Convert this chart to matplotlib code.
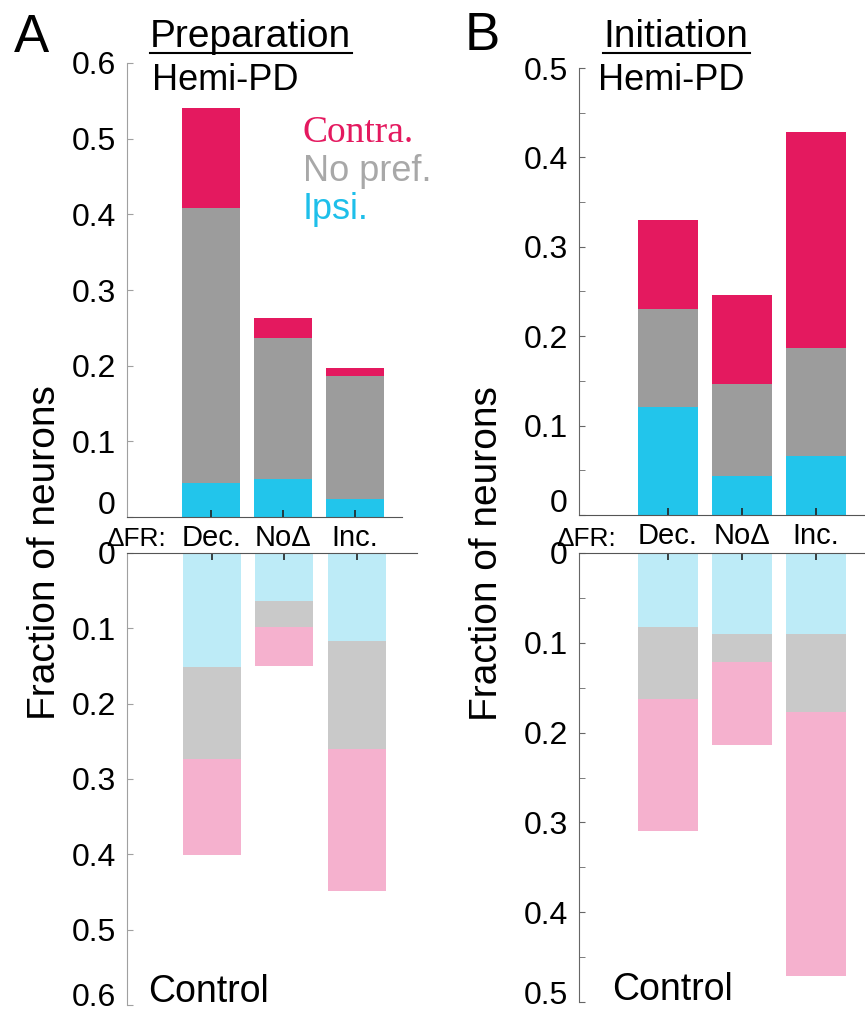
import matplotlib
matplotlib.use('Agg')
import matplotlib.pyplot as plt
import numpy as np
from matplotlib.lines import Line2D
from matplotlib.transforms import ScaledTranslation

plt.rcParams['font.family'] = ['Liberation Sans', 'DejaVu Sans']

# %% data: fraction of neurons per firing-rate change group, split by preference
groups = ['Dec.', 'No\u0394', 'Inc.']
pos = np.array([1, 2, 3])

# Preparation epoch
prep_pd_ipsi = [0.045, 0.050, 0.024]
prep_pd_nopref = [0.363, 0.186, 0.162]
prep_pd_contra = [0.132, 0.027, 0.011]
prep_ctl_ipsi = [0.151, 0.064, 0.117]
prep_ctl_nopref = [0.123, 0.034, 0.143]
prep_ctl_contra = [0.127, 0.052, 0.189]

# Initiation epoch
init_pd_ipsi = [0.121, 0.044, 0.066]
init_pd_nopref = [0.109, 0.103, 0.121]
init_pd_contra = [0.100, 0.099, 0.241]
init_ctl_ipsi = [0.082, 0.090, 0.090]
init_ctl_nopref = [0.081, 0.031, 0.087]
init_ctl_contra = [0.147, 0.093, 0.294]

prep_ticks = [0, 0.1, 0.2, 0.3, 0.4, 0.5, 0.6]
prep_labels = ['0', '0.1', '0.2', '0.3', '0.4', '0.5', '0.6']
init_ticks = [0, 0.1, 0.2, 0.3, 0.4, 0.5]
init_labels = ['0', '0.1', '0.2', '0.3', '0.4', '0.5']

# colours
c_contra, c_nopref, c_ipsi = '#E4195F', '#9C9C9C', '#22C5EB'
l_contra, l_nopref, l_ipsi = '#F5B1CE', '#C9C9C9', '#BDEBF7'

W, H = 865, 1011
fig = plt.figure(figsize=(W / 100, H / 100), dpi=100)

def px_axes(l, t, r, b):
    return fig.add_axes([l / W, 1 - b / H, (r - l) / W, (b - t) / H])

axA_top = px_axes(127, 63, 402, 517)
axA_bot = px_axes(127, 553, 417, 1005)
axB_top = px_axes(579, 68, 865, 515)
axB_bot = px_axes(579, 553, 865, 1002)

def stack(ax, ipsi, nopref, contra, cols):
    ipsi, nopref, contra = map(np.array, (ipsi, nopref, contra))
    ax.bar(pos, ipsi, 0.8, color=cols[0], linewidth=0)
    ax.bar(pos, nopref, 0.8, bottom=ipsi, color=cols[1], linewidth=0)
    ax.bar(pos, contra, 0.8, bottom=ipsi + nopref, color=cols[2], linewidth=0)

def style(ax, ticks, labels, ymax, top, spine_col, minor):
    for s in ax.spines.values():
        s.set_visible(False)
    ax.spines['left'].set_visible(True)
    ax.spines['left'].set_color(spine_col)
    xs = 'bottom' if top else 'top'
    ax.spines[xs].set_visible(True)
    ax.spines[xs].set_color('#555555')
    ax.set_ylim(0, ymax)
    if not top:
        ax.invert_yaxis()
    ax.set_yticks(ticks)
    ax.set_yticklabels(labels)
    if minor:
        ax.set_yticks(np.arange(0.05, ymax, 0.1), minor=True)
        ax.tick_params(axis='y', which='minor', direction='in', length=4,
                       color=spine_col)
    ax.tick_params(axis='y', direction='in', length=4, color=spine_col,
                   labelsize=23, pad=8)
    ax.set_xticks(pos)
    if top:
        ax.xaxis.set_ticks_position('bottom')
        ax.set_xticklabels(groups)
        ax.tick_params(axis='x', direction='in', length=5, width=1.2,
                       color='#222222', labelsize=21, pad=5)
    else:
        ax.xaxis.set_ticks_position('top')
        ax.tick_params(axis='x', direction='in', length=5, width=1.2,
                       color='#222222', labeltop=False, labelbottom=False)
    ax.patch.set_alpha(0)

stack(axA_top, prep_pd_ipsi, prep_pd_nopref, prep_pd_contra, (c_ipsi, c_nopref, c_contra))
stack(axA_bot, prep_ctl_ipsi, prep_ctl_nopref, prep_ctl_contra, (l_ipsi, l_nopref, l_contra))
stack(axB_top, init_pd_ipsi, init_pd_nopref, init_pd_contra, (c_ipsi, c_nopref, c_contra))
stack(axB_bot, init_ctl_ipsi, init_ctl_nopref, init_ctl_contra, (l_ipsi, l_nopref, l_contra))

style(axA_top, prep_ticks, prep_labels, 0.6, True, '#A0A0A0', False)
style(axA_bot, prep_ticks, prep_labels, 0.6, False, '#A0A0A0', False)
style(axB_top, init_ticks, init_labels, 0.5, True, '#666666', True)
style(axB_bot, init_ticks, init_labels, 0.5, False, '#666666', True)

axA_top.set_xlim(-0.17, 3.65)
axA_bot.set_xlim(-0.172, 3.83)
axB_top.set_xlim(-0.2, 3.66)
axB_bot.set_xlim(-0.2, 3.66)

# lift the "0" label of the upper panels clear of the group names,
# and the last label of the lower panels so it sits on its tick
def shift_label(ax, idx, dy):
    lab = ax.yaxis.get_major_ticks()[idx].label1
    lab.set_transform(lab.get_transform() + ScaledTranslation(0, dy, fig.dpi_scale_trans))

shift_label(axA_top, 0, 0.15)
shift_label(axB_top, 0, 0.15)
shift_label(axA_bot, -1, 0.10)
shift_label(axB_bot, -1, 0.10)

# legend
axA_top.text(0.64, 0.846, 'Contra.', transform=axA_top.transAxes, color=c_contra,
             fontsize=27, family=['Liberation Serif', 'DejaVu Serif'], va='center')
axA_top.text(0.64, 0.762, 'No pref.', transform=axA_top.transAxes, color='#A8A8A8',
             fontsize=26, va='center')
axA_top.text(0.64, 0.678, 'Ipsi.', transform=axA_top.transAxes, color='#1EBFEA',
             fontsize=26, va='center')

def fx(x):
    return x / W

def fy(y):
    return 1 - y / H

# panel letters, titles and group labels
fig.text(fx(14), fy(52), 'A', fontsize=38)
fig.text(fx(465), fy(50), 'B', fontsize=38)

for left, title, right in ((150, 'Preparation', 352), (603, 'Initiation', 750)):
    fig.text(fx(left), fy(47), title, fontsize=28)
    fig.add_artist(Line2D([fx(left), fx(right)], [fy(53), fy(53)], color='black',
                          linewidth=1.5, transform=fig.transFigure))

fig.text(fx(152), fy(90), 'Hemi-PD', fontsize=26)
fig.text(fx(598), fy(90), 'Hemi-PD', fontsize=26)
fig.text(fx(148), fy(1002), 'Control', fontsize=27)
fig.text(fx(612), fy(1000), 'Control', fontsize=27)

fig.text(fx(106), fy(546), '\u0394FR:', fontsize=19, va='baseline')
fig.text(fx(556), fy(546), '\u0394FR:', fontsize=19, va='baseline')

fig.text(fx(45), fy(553), 'Fraction of neurons', fontsize=28, rotation=90,
         ha='center', va='center')
fig.text(fx(487), fy(554), 'Fraction of neurons', fontsize=28, rotation=90,
         ha='center', va='center')

fig.savefig('out.png', dpi=100)
